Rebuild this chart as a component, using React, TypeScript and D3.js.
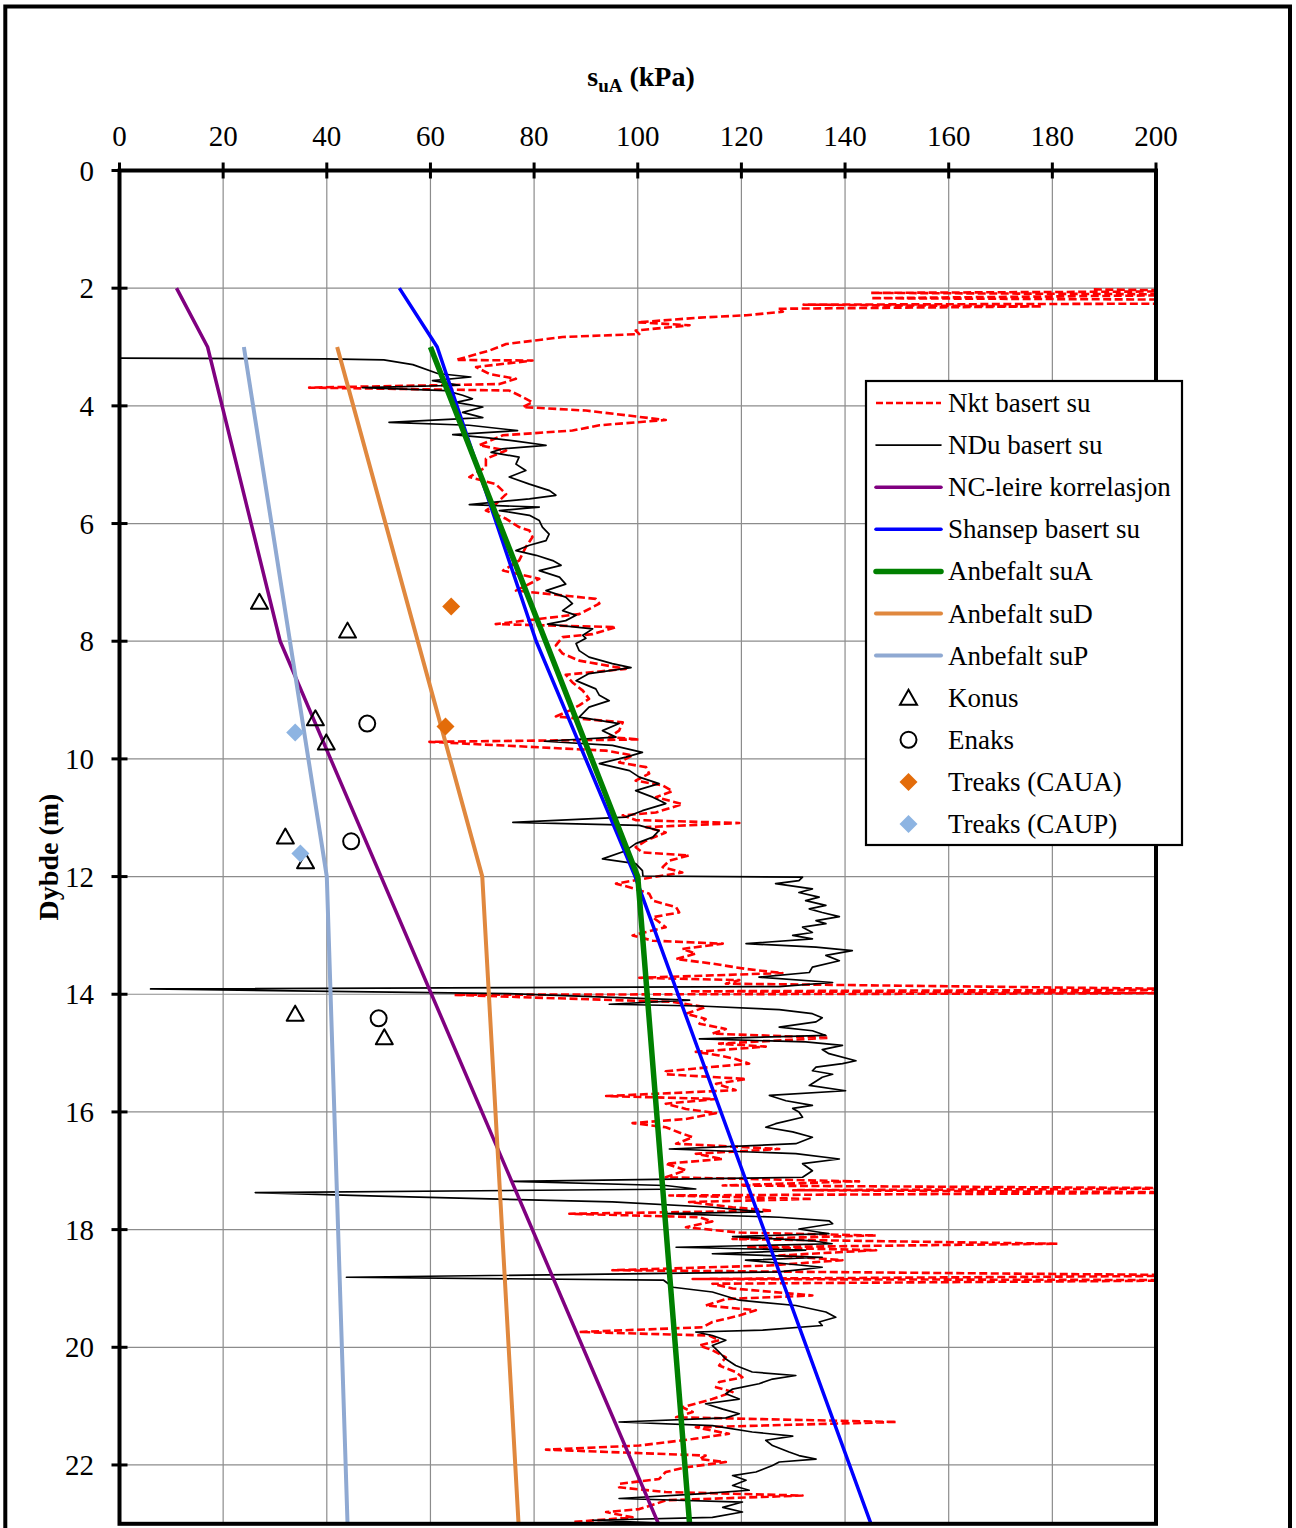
import React from "react";
import * as d3 from "d3";

// ---------- data ----------
const xTicks = [0, 20, 40, 60, 80, 100, 120, 140, 160, 180, 200];
const yTicks = [0, 2, 4, 6, 8, 10, 12, 14, 16, 18, 20, 22];

// [suA (kPa), depth (m)]
const nktProfile: [number, number][] = [
  [188, 2.02], [215, 2.05], [145, 2.08], [215, 2.11], [145, 2.17], [215, 2.2], [215, 2.26], [132, 2.28],
  [178, 2.31], [127, 2.35], [128, 2.4], [121, 2.46], [112, 2.5], [100, 2.58], [110, 2.63], [99.6, 2.72],
  [100.3, 2.78], [85.5, 2.83], [74.6, 2.95], [71.4, 3.06], [64.9, 3.22], [79.7, 3.23], [68.8, 3.34],
  [71.4, 3.46], [76.5, 3.54], [73.3, 3.63], [36.6, 3.69], [75.2, 3.74], [77.1, 3.82], [79.7, 3.94],
  [77.8, 4.02], [90, 4.08], [97.7, 4.16], [105.4, 4.24], [92.6, 4.33], [87.4, 4.42], [74, 4.5],
  [69.4, 4.67], [74.6, 4.76], [70.7, 4.9], [70.7, 5.04], [67.5, 5.21], [72.6, 5.33], [74.6, 5.5],
  [72.6, 5.67], [70.7, 5.78], [74.6, 5.92], [77.1, 6.06], [79.1, 6.12], [79.7, 6.23], [78.4, 6.4],
  [77.1, 6.63], [74, 6.8], [81, 6.94], [76.5, 7.14], [91.9, 7.28], [92.6, 7.36], [88.7, 7.54],
  [72.6, 7.71], [95.8, 7.76], [91.3, 7.88], [85.5, 7.93], [84.2, 8.07], [85.5, 8.21], [88.7, 8.33],
  [97.7, 8.47], [86.1, 8.57], [87.4, 8.7], [89.4, 8.84], [90.6, 8.98], [88.7, 9.09], [86.8, 9.18],
  [84.2, 9.28], [97.1, 9.38], [96.4, 9.52], [94.5, 9.63], [100.3, 9.67], [59.8, 9.71], [93.9, 9.86],
  [99, 9.94], [96.4, 10.06], [101.6, 10.14], [102.2, 10.25], [99.6, 10.37], [104.8, 10.45],
  [106.7, 10.55], [103.5, 10.65], [108.6, 10.77], [103.5, 10.91], [97.1, 10.96], [99.6, 11.04],
  [119.6, 11.09], [101.6, 11.16], [105.4, 11.25], [101.6, 11.39], [99.6, 11.5], [100.9, 11.59],
  [109.9, 11.64], [106.1, 11.73], [104.8, 11.84], [108.6, 11.93], [102.9, 12.01], [95.8, 12.12],
  [99.6, 12.21], [102.2, 12.29], [102.9, 12.41], [107.4, 12.52], [108, 12.61], [102.9, 12.69],
  [105.4, 12.86], [99, 13.0], [102.9, 13.09], [116.4, 13.14], [108.6, 13.23], [111.2, 13.31],
  [107.4, 13.4], [114.4, 13.48], [120.9, 13.57], [127.9, 13.64], [100.3, 13.72], [119.6, 13.76],
  [117, 13.82], [215, 13.92], [110, 13.95], [215, 13.98], [64.6, 14.01], [77.8, 14.05], [106.7, 14.13],
  [113.1, 14.22], [109.3, 14.33], [113.1, 14.42], [111.9, 14.5], [117, 14.59], [114.4, 14.67],
  [136.9, 14.74], [115.7, 14.84], [124.7, 14.89], [111.2, 14.98], [115.7, 15.04], [118.9, 15.1],
  [121.5, 15.18], [113.8, 15.24], [105.4, 15.31], [105.4, 15.36], [120.9, 15.44], [115.1, 15.52],
  [118.9, 15.63], [93.9, 15.73], [115.1, 15.78], [105.4, 15.86], [109.3, 15.95], [115.1, 16.02],
  [109.3, 16.12], [99, 16.19], [105.4, 16.26], [108, 16.35], [110.6, 16.43], [107.4, 16.54],
  [127.3, 16.63], [111.2, 16.71], [116.4, 16.8], [105.4, 16.88], [109.3, 16.99], [105.4, 17.11],
  [142.7, 17.18], [116.4, 17.25], [215, 17.3], [130, 17.33], [215, 17.37], [106.1, 17.42],
  [133.7, 17.48], [109.9, 17.53], [118.3, 17.62], [126, 17.68], [86.8, 17.73], [111.9, 17.79],
  [114.4, 17.86], [109.3, 17.96], [119.6, 18.05], [146, 18.1], [118.3, 18.16], [181, 18.24],
  [120.9, 18.3], [146, 18.35], [127.3, 18.44], [139.5, 18.52], [125.4, 18.61], [95.1, 18.69],
  [215, 18.78], [110.6, 18.84], [215, 18.86], [114.4, 18.92], [118.3, 19.0], [133.7, 19.12],
  [117, 19.18], [113.1, 19.29], [122.8, 19.37], [119.6, 19.46], [114.4, 19.57], [112.5, 19.66],
  [88.7, 19.74], [113.8, 19.8], [115.7, 19.88], [111.9, 19.97], [114.4, 20.05], [117, 20.17],
  [115.7, 20.31], [118.9, 20.42], [120.2, 20.51], [115.7, 20.59], [115.1, 20.68], [118.3, 20.76],
  [114.4, 20.88], [108.6, 21.02], [110.6, 21.1], [107.4, 21.19], [150, 21.27], [111.2, 21.36],
  [117.6, 21.47], [110.6, 21.56], [100.3, 21.67], [82.3, 21.74], [113.1, 21.84], [111.9, 21.9],
  [117, 21.95], [109.3, 22.04], [105.4, 22.12], [104.1, 22.24], [96.4, 22.32], [96.4, 22.38],
  [105.4, 22.46], [131.8, 22.52], [105.4, 22.6], [103.5, 22.66], [100.3, 22.75], [93.9, 22.8],
  [99, 22.89], [87.4, 22.97], [88.7, 23.03],
];

const nduProfile: [number, number][] = [
  [0, 3.19], [40, 3.2], [51, 3.22], [56.6, 3.3], [61.4, 3.45], [67.8, 3.51], [60.4, 3.57], [65.6, 3.65],
  [46.9, 3.69], [63, 3.74], [66.2, 3.82], [68.1, 3.88], [64.9, 3.94], [70.1, 4.02], [66.2, 4.11],
  [70.1, 4.2], [52, 4.28], [67.5, 4.33], [76.8, 4.42], [64.3, 4.49], [70.7, 4.54], [76.5, 4.6],
  [82.3, 4.67], [73.9, 4.73], [71.7, 4.79], [77.1, 4.87], [76.5, 4.99], [78.4, 5.1], [75.2, 5.21],
  [79.1, 5.33], [83, 5.44], [84.2, 5.52], [79.1, 5.58], [67.5, 5.68], [81, 5.72], [73.3, 5.78],
  [79.1, 5.86], [81, 5.95], [81.6, 6.06], [82.9, 6.18], [82.3, 6.29], [79.1, 6.37], [76.5, 6.46],
  [80.4, 6.54], [83.6, 6.63], [85.2, 6.71], [81, 6.8], [84.9, 6.91], [86.1, 7.03], [82.3, 7.14],
  [86.1, 7.25], [87.4, 7.36], [85.5, 7.48], [88.1, 7.56], [86.1, 7.65], [82.6, 7.71], [91.3, 7.79],
  [89.4, 7.9], [90, 7.95], [88.1, 8.04], [88.7, 8.16], [90.6, 8.27], [95.1, 8.38], [98.7, 8.45],
  [90.6, 8.55], [88.1, 8.67], [91.9, 8.81], [92.6, 8.92], [94.5, 9.01], [90.6, 9.12], [88.7, 9.29],
  [96.4, 9.4], [93.2, 9.52], [95.8, 9.63], [82, 9.7], [95.1, 9.77], [100.9, 9.89], [97.7, 9.97],
  [92.6, 10.08], [98.4, 10.2], [100.3, 10.31], [104.1, 10.42], [99.6, 10.54], [102.9, 10.65],
  [105.4, 10.76], [100.9, 10.88], [97.7, 10.99], [75.9, 11.08], [100.3, 11.13], [104.1, 11.22],
  [102.9, 11.33], [99.6, 11.44], [97.7, 11.56], [93.2, 11.7], [99.6, 11.78], [100.9, 11.9],
  [101, 11.99], [131.8, 12.01], [131.1, 12.07], [126.6, 12.12], [133.7, 12.21], [131.1, 12.27],
  [135, 12.35], [132.4, 12.41], [136.3, 12.49], [133.1, 12.55], [135.6, 12.61], [138.9, 12.68],
  [134.4, 12.75], [136.3, 12.8], [131.8, 12.86], [133.7, 12.95], [129.9, 13.0], [133.7, 13.06],
  [120.9, 13.14], [134.4, 13.2], [141.4, 13.26], [136.3, 13.34], [138.9, 13.43], [133.7, 13.54],
  [133.1, 13.63], [123.4, 13.71], [137.6, 13.8], [127.3, 13.87], [6, 13.91], [75, 13.99], [110, 14.1],
  [94.5, 14.17], [111.9, 14.2], [127.3, 14.26], [133.7, 14.33], [135.6, 14.4], [134.4, 14.47],
  [127.3, 14.56], [133.7, 14.62], [136.3, 14.7], [111.9, 14.76], [132.4, 14.81], [139.5, 14.87],
  [135.6, 14.94], [136.9, 15.01], [142.1, 15.13], [139.5, 15.18], [134.4, 15.24], [133.7, 15.3],
  [137.6, 15.36], [135.6, 15.41], [133.1, 15.55], [140.1, 15.64], [125.4, 15.72], [128.6, 15.81],
  [133.7, 15.89], [129.9, 15.94], [131.1, 16.0], [131.8, 16.09], [126.6, 16.2], [124.7, 16.26],
  [129.9, 16.34], [133.7, 16.43], [130.5, 16.54], [106.1, 16.63], [130.5, 16.71], [138.9, 16.8],
  [131.8, 16.88], [133.7, 17.0], [131.8, 17.11], [75.9, 17.18], [105.4, 17.25], [111.2, 17.31],
  [26.2, 17.37], [50, 17.43], [95.1, 17.53], [114.4, 17.62], [124.1, 17.7], [105.4, 17.73],
  [127.3, 17.79], [136.9, 17.85], [137.6, 17.9], [131.1, 17.99], [136.9, 18.07], [118.3, 18.12],
  [133.7, 18.19], [137.5, 18.24], [107.4, 18.3], [132.4, 18.35], [114.4, 18.41], [135.6, 18.47],
  [120.8, 18.52], [128.6, 18.58], [135.6, 18.64], [127.3, 18.72], [43.8, 18.81], [105, 18.86],
  [106.8, 18.98], [114.4, 19.06], [119.6, 19.2], [130.5, 19.29], [136.3, 19.4], [138.2, 19.49],
  [135, 19.57], [135.6, 19.63], [124.1, 19.71], [111.2, 19.74], [114.4, 19.8], [117, 19.88],
  [114.4, 19.97], [115.7, 20.08], [117, 20.2], [118.9, 20.31], [122.1, 20.42], [130.5, 20.48],
  [126, 20.54], [123.4, 20.62], [118.3, 20.71], [117, 20.79], [119.6, 20.88], [113.1, 20.96],
  [116.4, 21.05], [119.6, 21.13], [117, 21.2], [96.4, 21.27], [114.4, 21.33], [122.1, 21.44],
  [129.9, 21.51], [124.7, 21.58], [126, 21.67], [129.2, 21.78], [131.1, 21.84], [134.4, 21.9],
  [127.3, 21.95], [126, 22.01], [122.8, 22.12], [118.3, 22.18], [120.9, 22.26], [118.3, 22.35],
  [121.5, 22.43], [111.9, 22.49], [96.4, 22.57], [120.2, 22.63], [116.4, 22.72], [120.2, 22.8],
  [114.4, 22.89], [91.3, 22.94], [108, 23.0],
];

const ncLeire: [number, number][] = [[11, 2], [17, 3], [31, 8], [104, 23]];
const shansep: [number, number][] = [[54, 2], [61.3, 3], [80.4, 8], [99.5, 12], [145, 23]];
const anbefaltSuA: [number, number][] = [[60, 3], [100, 12], [110, 23]];
const anbefaltSuD: [number, number][] = [[42, 3], [70, 12], [77, 23]];
const anbefaltSuP: [number, number][] = [[24, 3], [40, 12], [44, 23]];

const konus: [number, number][] = [
  [27, 7.33], [44, 7.82], [37.8, 9.31], [39.9, 9.72], [32, 11.32], [35.9, 11.74], [33.9, 14.33], [51.1, 14.73],
];
const enaks: [number, number][] = [[47.8, 9.4], [44.7, 11.4], [50, 14.41]];
const treaksCAUA: [number, number][] = [[64, 7.41], [62.9, 9.45]];
const treaksCAUP: [number, number][] = [[33.9, 9.55], [34.9, 11.61]];

const legendLabels = [
  "Nkt basert su", "NDu basert su", "NC-leire korrelasjon", "Shansep basert su", "Anbefalt suA",
  "Anbefalt suD", "Anbefalt suP", "Konus", "Enaks", "Treaks (CAUA)", "Treaks (CAUP)",
];

// ---------- styling ----------
const FONT = "'Liberation Serif', 'Times New Roman', serif";
const C_RED = "#FF0000";
const C_PURPLE = "#800080";
const C_BLUE = "#0000FF";
const C_GREEN = "#008000";
const C_ORANGE = "#E0883E";
const C_LBLUE = "#8FA9D2";
const C_CAUA = "#E36C0A";
const C_CAUP = "#8DB4E2";

const W = 1296;
const H = 1528;
const PL = 119.5, PR = 1156, PT = 170.5, PB = 1523.8;

export default function App() {
  const x = d3.scaleLinear().domain([0, 200]).range([PL, PR]);
  const y = d3.scaleLinear().domain([0, 23]).range([PT, PB]);
  const line = d3.line<[number, number]>().x((d) => x(d[0])).y((d) => y(d[1]));

  const tri = (cx: number, cy: number) =>
    `M${cx},${cy - 8} L${cx + 8.5},${cy + 7} L${cx - 8.5},${cy + 7} Z`;
  const dia = (cx: number, cy: number) =>
    `M${cx},${cy - 9} L${cx + 9},${cy} L${cx},${cy + 9} L${cx - 9},${cy} Z`;

  const legendX = 866, legendY = 381, legendW = 316, legendH = 464;
  const rowY = (i: number) => 403 + i * 42.1;

  const lineStyles = [
    { stroke: C_RED, w: 2.4, dash: "7,3" },
    { stroke: "#000", w: 1.6, dash: undefined },
    { stroke: C_PURPLE, w: 3.5, dash: undefined },
    { stroke: C_BLUE, w: 3.5, dash: undefined },
    { stroke: C_GREEN, w: 5.5, dash: undefined },
    { stroke: C_ORANGE, w: 4, dash: undefined },
    { stroke: C_LBLUE, w: 4, dash: undefined },
  ];

  return (
    <svg
      width={W}
      height={H}
      style={{ position: "absolute", left: 0, top: 0, background: "#fff" }}
      fontFamily={FONT}
    >
      <defs>
        <clipPath id="plotClip">
          <rect x={PL} y={PT} width={PR - PL} height={PB - PT} />
        </clipPath>
      </defs>
      <rect x={0} y={0} width={W} height={H} fill="#fff" />
      {/* outer frame */}
      <rect x={5.3} y={6.5} width={1284.7} height={1560} fill="none" stroke="#000" strokeWidth={4} />

      {/* gridlines */}
      {xTicks.slice(1, -1).map((t) => (
        <line key={"gx" + t} x1={x(t)} x2={x(t)} y1={PT} y2={PB} stroke="#8c8c8c" strokeWidth={1.2} />
      ))}
      {yTicks.slice(1).map((t) => (
        <line key={"gy" + t} x1={PL} x2={PR} y1={y(t)} y2={y(t)} stroke="#8c8c8c" strokeWidth={1.2} />
      ))}

      {/* data */}
      <g clipPath="url(#plotClip)" fill="none" strokeLinejoin="round">
        <path d={line(nktProfile) || ""} stroke={C_RED} strokeWidth={2.6} strokeDasharray="8,3.5" />
        <path d={line(nduProfile) || ""} stroke="#000" strokeWidth={1.7} />
        <path d={line(ncLeire) || ""} stroke={C_PURPLE} strokeWidth={3.5} />
        <path d={line(shansep) || ""} stroke={C_BLUE} strokeWidth={3.5} />
        <path d={line(anbefaltSuA) || ""} stroke={C_GREEN} strokeWidth={5.5} />
        <path d={line(anbefaltSuD) || ""} stroke={C_ORANGE} strokeWidth={4} />
        <path d={line(anbefaltSuP) || ""} stroke={C_LBLUE} strokeWidth={4} />
        {konus.map((p, i) => (
          <path key={"k" + i} d={tri(x(p[0]), y(p[1]))} fill="none" stroke="#000" strokeWidth={2} />
        ))}
        {enaks.map((p, i) => (
          <circle key={"e" + i} cx={x(p[0])} cy={y(p[1])} r={8} fill="none" stroke="#000" strokeWidth={2} />
        ))}
        {treaksCAUA.map((p, i) => (
          <path key={"a" + i} d={dia(x(p[0]), y(p[1]))} fill={C_CAUA} />
        ))}
        {treaksCAUP.map((p, i) => (
          <path key={"p" + i} d={dia(x(p[0]), y(p[1]))} fill={C_CAUP} />
        ))}
      </g>

      {/* axes frame */}
      <rect x={PL} y={PT} width={PR - PL} height={PB - PT} fill="none" stroke="#000" strokeWidth={4} />
      {xTicks.map((t) => (
        <line key={"tx" + t} x1={x(t)} x2={x(t)} y1={PT - 8} y2={PT + 8} stroke="#000" strokeWidth={3} />
      ))}
      {yTicks.map((t) => (
        <line key={"ty" + t} x1={PL - 8} x2={PL + 8} y1={y(t)} y2={y(t)} stroke="#000" strokeWidth={3} />
      ))}
      {xTicks.map((t) => (
        <text key={"lx" + t} x={x(t)} y={146} textAnchor="middle" fontSize={29}>
          {t}
        </text>
      ))}
      {yTicks.map((t) => (
        <text key={"ly" + t} x={94} y={y(t) + 10} textAnchor="end" fontSize={29}>
          {t}
        </text>
      ))}

      {/* axis titles */}
      <text x={641} y={86} textAnchor="middle" fontSize={28} fontWeight="bold">
        s<tspan fontSize={19} dy={6}>uA</tspan>
        <tspan dy={-6}> (kPa)</tspan>
      </text>
      <text transform="translate(58,857) rotate(-90)" textAnchor="middle" fontSize={28} fontWeight="bold">
        Dybde (m)
      </text>

      {/* legend */}
      <rect x={legendX} y={legendY} width={legendW} height={legendH} fill="#fff" stroke="#000" strokeWidth={2.2} />
      {lineStyles.map((s, i) => (
        <line
          key={"ll" + i}
          x1={876}
          x2={941}
          y1={rowY(i)}
          y2={rowY(i)}
          stroke={s.stroke}
          strokeWidth={s.w}
          strokeDasharray={s.dash}
          strokeLinecap={s.dash ? "butt" : "round"}
        />
      ))}
      <path d={tri(908.5, rowY(7))} fill="none" stroke="#000" strokeWidth={2} />
      <circle cx={908.5} cy={rowY(8)} r={8} fill="none" stroke="#000" strokeWidth={2} />
      <path d={dia(908.5, rowY(9))} fill={C_CAUA} />
      <path d={dia(908.5, rowY(10))} fill={C_CAUP} />
      {legendLabels.map((l, i) => (
        <text key={"lt" + i} x={948} y={rowY(i) + 9} fontSize={27}>
          {l}
        </text>
      ))}
    </svg>
  );
}
